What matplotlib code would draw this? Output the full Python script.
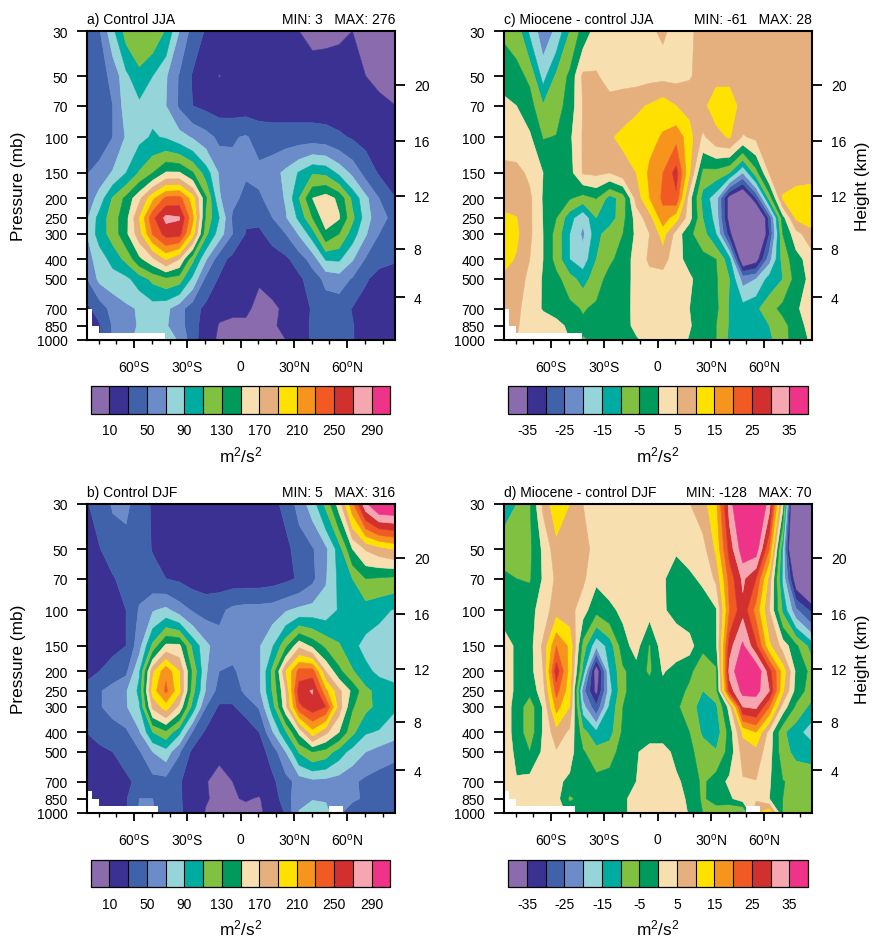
import numpy as np
import matplotlib
matplotlib.use("Agg")
import matplotlib.pyplot as plt
from matplotlib.colors import ListedColormap, BoundaryNorm
from matplotlib.ticker import NullLocator

plt.rcParams['font.family'] = ['Liberation Sans', 'DejaVu Sans']
plt.rcParams['mathtext.default'] = 'regular'

W, H = 872, 937

lat = [-87, -79.5, -72, -64.5, -57, -49.5, -42, -34.5, -27, -19.5, -12, -4.5, 3, 10.5,
       18, 25.5, 33, 40.5, 48, 55.5, 63, 70.5, 78, 87.5]
pressure = [30, 50, 70, 100, 150, 200, 250, 300, 400, 500, 700, 850, 1000]
pressure_labels = ['30', '50', '70', '100', '150', '200', '250', '300', '400', '500', '700', '850', '1000']
height_pressure = [617, 356, 195, 104, 55.3]
height_labels = ['4', '8', '12', '16', '20']
lat_ticks = [-60, -30, 0, 30, 60]
lat_labels = ['60$^{o}$S', '30$^{o}$S', '0', '30$^{o}$N', '60$^{o}$N']
lat_minor = [-80, -70, -50, -40, -20, -10, 10, 20, 40, 50, 70, 80]

colors = ['#8a6cae', '#3a3192', '#3f62ab', '#6b8cc8', '#95d5da', '#00ac9f', '#80c141', '#009a5c',
          '#f8dfb0', '#e5b07d', '#ffe100', '#f7941d', '#f15a22', '#d22f2f', '#f5a6b0', '#ee3388']
levels_control = [10, 30, 50, 70, 90, 110, 130, 150, 170, 190, 210, 230, 250, 270, 290]
levels_diff = [-35, -30, -25, -20, -15, -10, -5, 0, 5, 10, 15, 20, 25, 30, 35]

control_jja = [
 [35, 48, 85, 118, 125, 125, 108, 70, 42, 28, 20, 18, 15, 15, 12, 11, 10, 7, 7, 8, 10, 8, 7, 8],
 [28, 42, 55, 85, 105, 90, 72, 48, 28, 20, 9.5, 13, 18, 18, 18, 18, 17, 15, 16, 16, 15, 10, 8, 8],
 [31, 38, 50, 80, 85, 85, 70, 47, 30, 25, 22, 20, 20, 20, 20, 20, 20, 20, 20, 20, 18, 15, 12, 10],
 [32, 38, 50, 72, 85, 92, 88, 78, 68, 58, 45, 48, 52, 42, 40, 40, 40, 40, 38, 33, 28, 24, 20, 18],
 [48, 58, 72, 90, 112, 130, 152, 152, 132, 100, 68, 56, 52, 55, 62, 75, 92, 108, 105, 85, 65, 42, 28, 24],
 [55, 78, 112, 135, 165, 205, 235, 238, 200, 133, 72, 55, 45, 47, 58, 72, 110, 150, 160, 145, 105, 75, 50, 30],
 [65, 98, 120, 143, 190, 245, 276, 272, 215, 125, 90, 47, 32, 35, 50, 68, 95, 130, 162, 152, 115, 80, 55, 45],
 [68, 100, 118, 145, 182, 232, 258, 258, 200, 115, 80, 50, 29, 26, 38, 50, 72, 100, 145, 130, 100, 72, 50, 38],
 [62, 78, 98, 115, 145, 165, 192, 170, 115, 72, 38, 24, 20, 18, 20, 26, 40, 58, 92, 93, 72, 48, 35, 32],
 [48, 75, 80, 85, 100, 115, 125, 120, 85, 45, 28, 20, 15, 11, 14, 18, 26, 40, 55, 60, 48, 32, 24, 20],
 [25, 38, 58, 66, 72, 80, 75, 58, 38, 25, 14, 12, 12, 7, 8, 12, 20, 32, 40, 38, 29, 22, 20, 18],
 [20, 28, 52, 62, 72, 80, 72, 58, 38, 20, 9, 8, 8, 7, 8, 14, 24, 32, 38, 38, 31, 22, 20, 18],
 [20, 28, 52, 62, 78, 90, 78, 68, 38, 18, 7, 6, 5, 6, 7, 10, 22, 32, 38, 38, 31, 22, 20, 18],
]
control_djf = [
 [28, 38, 52, 55, 38, 28, 22, 18, 16, 15, 15, 15, 15, 15, 25, 35, 58, 80, 115, 160, 225, 285, 315, 316],
 [20, 29, 40, 42, 38, 29, 22, 18, 16, 14, 14, 14, 14, 14, 16, 25, 38, 48, 65, 100, 150, 172, 182, 192],
 [15, 22, 28, 38, 42, 36, 30, 27, 22, 20, 20, 20, 20, 20, 22, 26, 32, 45, 68, 95, 110, 130, 128, 125],
 [14, 18, 24, 30, 52, 68, 75, 60, 48, 42, 45, 55, 58, 58, 60, 68, 75, 78, 78, 92, 100, 100, 95, 88],
 [18, 20, 25, 30, 62, 115, 155, 155, 105, 75, 58, 55, 55, 68, 88, 125, 165, 145, 125, 112, 95, 84, 80, 78],
 [24, 30, 38, 45, 88, 185, 225, 190, 125, 72, 50, 48, 55, 65, 115, 190, 238, 240, 170, 135, 112, 95, 85, 78],
 [36, 48, 58, 68, 95, 200, 235, 195, 118, 68, 42, 38, 55, 66, 112, 170, 262, 272, 215, 175, 145, 115, 103, 98],
 [33, 48, 58, 68, 88, 175, 200, 165, 102, 50, 27, 28, 38, 52, 100, 165, 245, 262, 250, 180, 132, 115, 105, 92],
 [30, 36, 40, 46, 68, 110, 125, 95, 48, 26, 19, 18, 18, 30, 68, 108, 155, 202, 175, 150, 115, 92, 88, 78],
 [23, 26, 30, 38, 48, 70, 82, 52, 25, 20, 12, 13, 16, 22, 38, 70, 112, 130, 122, 100, 82, 70, 62, 55],
 [16, 16, 18, 26, 35, 42, 42, 32, 20, 10.5, 7, 10, 14, 16, 26, 42, 58, 64, 63, 60, 54, 45, 40, 38],
 [15, 18, 20, 28, 50, 50, 40, 33, 18, 11, 7, 9, 11, 9, 18, 42, 62, 69, 68, 62, 56, 45, 40, 38],
 [15, 18, 20, 28, 52, 52, 40, 34, 18, 9, 6, 6, 6, 8, 15, 32, 72, 78, 76, 55, 32, 40, 38, 38],
]
miocene_jja = [
 [-5.5, -7, -16, -23, -19, -10, -3, 2, 3, 3, 3, 4.5, 5.5, 4, 4.5, 6, 7, 7, 7, 7, 7, 7, 7, 7],
 [-3, -3.5, -6, -17, -9, -4, 6, 5.5, 3, 3, 3, 3.5, 3.5, 3.5, 4.5, 7, 9, 9, 8, 8, 8, 8, 8, 8],
 [2, 0, -3, -9.5, -7, -3, 5.3, 6.5, 7, 8, 9, 10.5, 13, 10, 8.5, 9, 12, 12, 8.5, 8, 8, 8, 8, 8],
 [2, 2, 0.8, -5.3, -4.8, -1, 5.5, 7, 9.5, 11, 12.5, 13.5, 15.5, 18.5, 12, 4, 8.5, 10.5, 4.5, 6, 7, 8, 8, 8],
 [7, 6.5, 4, 0, -3, -2, 5.5, 6, 5, 8, 10, 16, 20, 27, 10.5, -6.5, -7, -10, -20, -7, 5.5, 7.5, 8, 8],
 [7, 7, 6, -0.5, -3, -4.5, -7, -4.8, -12, -8, 7, 15, 21, 24, 2, -12, -18, -38, -45, -30, -8, 10.5, 12, 13],
 [11.5, 10.2, 6, -0.2, -5, -13, -19, -10, -13, -6.5, 2, 8, 18, 12, 2, -10, -17, -38, -50, -50, -28, -2, 11, 12],
 [12, 11, 6, 0, -7, -15, -21, -12, -7, -5, 1, 5, 12, 3, -4, -8, -15, -33, -50, -50, -30, -5, 3, 9],
 [12, 9.5, 5, 0, -7, -15, -18, -10, -6, -3, 2, 5.8, 7, 2, -2, -3.5, -5, -13, -42, -38, -22, -8, -2, 3],
 [9, 7, 4, -0.5, -3.5, -8, -12, -7.5, -3, -1.5, 1, 3.5, 3, 2.5, 1, -3, -4.5, -10, -22, -20, -13, -10, -3, 2],
 [6, 6, 3, -0.5, -2, -3.5, -5.5, -4, -3, -2, 1.5, 3, 3, 2, 0, -2, -4, -10.5, -13, -11, -7, -3.5, -0.5, 2],
 [5, 5.5, 3, 3, 1.5, -1, -4, -4, -3, -1.5, 1, 3, 3, 3, 0.5, -3, -5, -10.5, -13, -12, -10, -7, -2, 2],
 [5, 5, 2, -1, 1, 0, -5.5, -4, -3, -1, -0.5, 1.5, 3, 3, -0.5, -3, -5, -11, -13, -13, -11, -7, -2.5, 1],
]
miocene_djf = [
 [-13, -10, -5.5, 6, 14, 10, 5, 4, 3, 3, 3, 3, 3, 3, 4.8, 8, 14, 32, 45, 45, 32, 2, -60, -70],
 [-7, -7.5, -6, 1, 8, 9, 7, 3, 2, 2, 2, 2, 2, 0.5, 2, 3, 11, 27, 38, 38, 20, -15, -60, -65],
 [-4, -5, -5.5, 0.5, 6, 8, 6, 1, 2, 1.5, 1, 1, 0.5, -2, -1, 1, 6, 22, 31, 25, 8, -16, -40, -50],
 [-2.5, -2.5, -1.5, 2, 8, 7, 2, -3.5, -1, 1, 2, 2, 0.5, -1.5, -3, -3, -0.5, 20, 28.5, 18, 5, -11, -24, -32],
 [3, -1, -2, 6, 20, 14, -7, -19, -13, -2, 2, -5.5, 3, 3, 2, -4, -1, 28, 36, 26, 11, 3, -4, -13],
 [3, -1, -2, 5, 28, 13, -12, -40, -15, -6, -2, -6, 0.5, -2, -4, -8, -6, 32, 40, 40, 27, 13, -1, -7],
 [3, -1, -3.5, 3, 22, 12, -23, -37, -17, -6, -2.5, -2, -2, -3, -6, -10, -7, 27, 37, 37, 30, 11, -2, -8],
 [3, -2, -8, 0.5, 17, 10, -18, -29, -14, -5, -2.5, -2.5, -3, -4, -8, -12, -11, 2, 30, 31, 20, 3, -6, -12],
 [3, -2, -8, 0.5, 8, 4, -8, -14, -12, -4, -2.5, -2.5, -2.5, -3, -5, -11, -13, -3, 11, 15, 3, -9, -13, -18],
 [3, -1, -5, 1, 4.5, 2, -4.5, -8, -7, -3, -0.5, 2, 2, -1.5, -4, -7, -9.5, -3, 7, 8, 2, -8, -11.5, -12],
 [2, 0.3, 2, 2, 1, -1, -2, -3.5, -3, -1.5, 0, 2, 2, 1, -2, -6, -2.5, 1, 4.5, 4.8, 0.5, -4.8, -6, -7],
 [2, 2, 3, 5, 2, -6, -3, -3, -3, -1, 2, 3, 3, 2, -1, -6, -2, -1, 3, 4, 0, -5, -6, -7],
 [2, 2, 3, 5, 2, -1, -3, -2, -2, -1, 2, 3, -0.5, 3, -0.5, -5, -9, -11, -12, 10, 14, -5, -6, -7],
]

# surface (below-ground) steps per panel: latitude edges and the pressure of the ground
mask_lat_jja = [-86.5, -83.5, -79.7, -42.7]
mask_top_jja = [703, 853, 927, 927]
mask_lat_djf = [-86.5, -83.5, -79.7, -46.3]
mask_top_djf = [776, 853, 927, 927]
mask2_lat_djf = [50, 57.5]
mask2_top_djf = [927, 927]

panels = [
    ('a) Control JJA', 'MIN: 3   MAX: 276', control_jja, levels_control, (87, 32, 395, 341), 90.7, 387, True, False),
    ('c) Miocene - control JJA', 'MIN: -61   MAX: 28', miocene_jja, levels_diff, (504, 32, 812, 341), 508.3, 387, False, True),
    ('b) Control DJF', 'MIN: 5   MAX: 316', control_djf, levels_control, (87, 505, 395, 814), 90.7, 860.5, True, False),
    ('d) Miocene - control DJF', 'MIN: -128   MAX: 70', miocene_djf, levels_diff, (504, 505, 812, 814), 508.3, 860.5, False, True),
]

fig = plt.figure(figsize=(W / 100, H / 100), dpi=100)


def box(x0, y0, x1, y1):
    return [x0 / W, 1 - y1 / H, (x1 - x0) / W, (y1 - y0) / H]


for title, stats, data, levels, rect, cx, cy, left_label, right_label in panels:
    ax = fig.add_axes(box(*rect))
    cmap = ListedColormap(colors[1:-1])
    cmap.set_under(colors[0])
    cmap.set_over(colors[-1])
    norm = BoundaryNorm(levels, cmap.N)
    cs = ax.contourf(lat, pressure, np.array(data, dtype=float), levels=levels, cmap=cmap, norm=norm,
                     extend='both', antialiased=True)
    cs.set_edgecolor('face')
    cs.set_linewidth(0.4)
    if 'JJA' in title:
        ax.fill_between(mask_lat_jja, mask_top_jja, 1000, step='post', color='white', lw=0, zorder=3)
    else:
        ax.fill_between(mask_lat_djf, mask_top_djf, 1000, step='post', color='white', lw=0, zorder=3)
        ax.fill_between(mask2_lat_djf, mask2_top_djf, 1000, color='white', lw=0, zorder=3)
    ax.set_yscale('log')
    ax.set_ylim(1000, 30)
    ax.set_xlim(-86.5, 87)
    ax.set_yticks(pressure)
    ax.set_yticklabels(pressure_labels)
    ax.yaxis.set_minor_locator(NullLocator())
    ax.set_xticks(lat_ticks)
    ax.set_xticklabels(lat_labels)
    ax.set_xticks(lat_minor, minor=True)
    ax.tick_params(axis='y', which='major', length=7.2, width=1.3, labelsize=10, pad=6.5)
    ax.tick_params(axis='x', which='major', length=6, width=1.3, labelsize=10, pad=7.5)
    ax.tick_params(axis='x', which='minor', length=3, width=1.0)
    for s in ax.spines.values():
        s.set_linewidth(1.5)
        s.set_zorder(5)

    ax2 = ax.twinx()
    ax2.set_yscale('log')
    ax2.set_ylim(1000, 30)
    ax2.set_yticks(height_pressure)
    ax2.set_yticklabels(height_labels)
    ax2.yaxis.set_minor_locator(NullLocator())
    ax2.tick_params(axis='y', which='major', length=7, width=1.3, labelsize=10, pad=6.5)
    for s in ax2.spines.values():
        s.set_visible(False)

    fig.text(rect[0] / W, 1 - (rect[1] - 8) / H, title, fontsize=10, ha='left', va='baseline')
    fig.text(rect[2] / W, 1 - (rect[1] - 8) / H, stats, fontsize=10, ha='right', va='baseline')
    yc = (rect[1] + rect[3]) / 2
    if left_label:
        fig.text(18 / W, 1 - yc / H, 'Pressure (mb)', fontsize=12.4, rotation=90, ha='center', va='center')
    if right_label:
        fig.text(862 / W, 1 - yc / H, 'Height (km)', fontsize=12.4, rotation=90, ha='center', va='center')

    cax = fig.add_axes(box(cx, cy, cx + 299.7, cy + 27.5))
    sm = plt.cm.ScalarMappable(norm=norm, cmap=cmap)
    cb = fig.colorbar(sm, cax=cax, orientation='horizontal', extend='both', extendrect=True,
                      extendfrac=1 / 14, drawedges=True, ticks=levels[::2], spacing='uniform')
    cb.ax.tick_params(length=0, labelsize=10, pad=7)
    cb.ax.xaxis.set_minor_locator(NullLocator())
    cb.set_ticklabels([str(v) for v in levels[::2]])
    cb.outline.set_linewidth(0.9)
    cb.dividers.set_linewidth(0.8)
    fig.text((cx + 149.8) / W, 1 - (cy + 68) / H, 'm$^{2}$/s$^{2}$', fontsize=12.4, ha='center', va='center')

fig.savefig('out.png', dpi=100)
